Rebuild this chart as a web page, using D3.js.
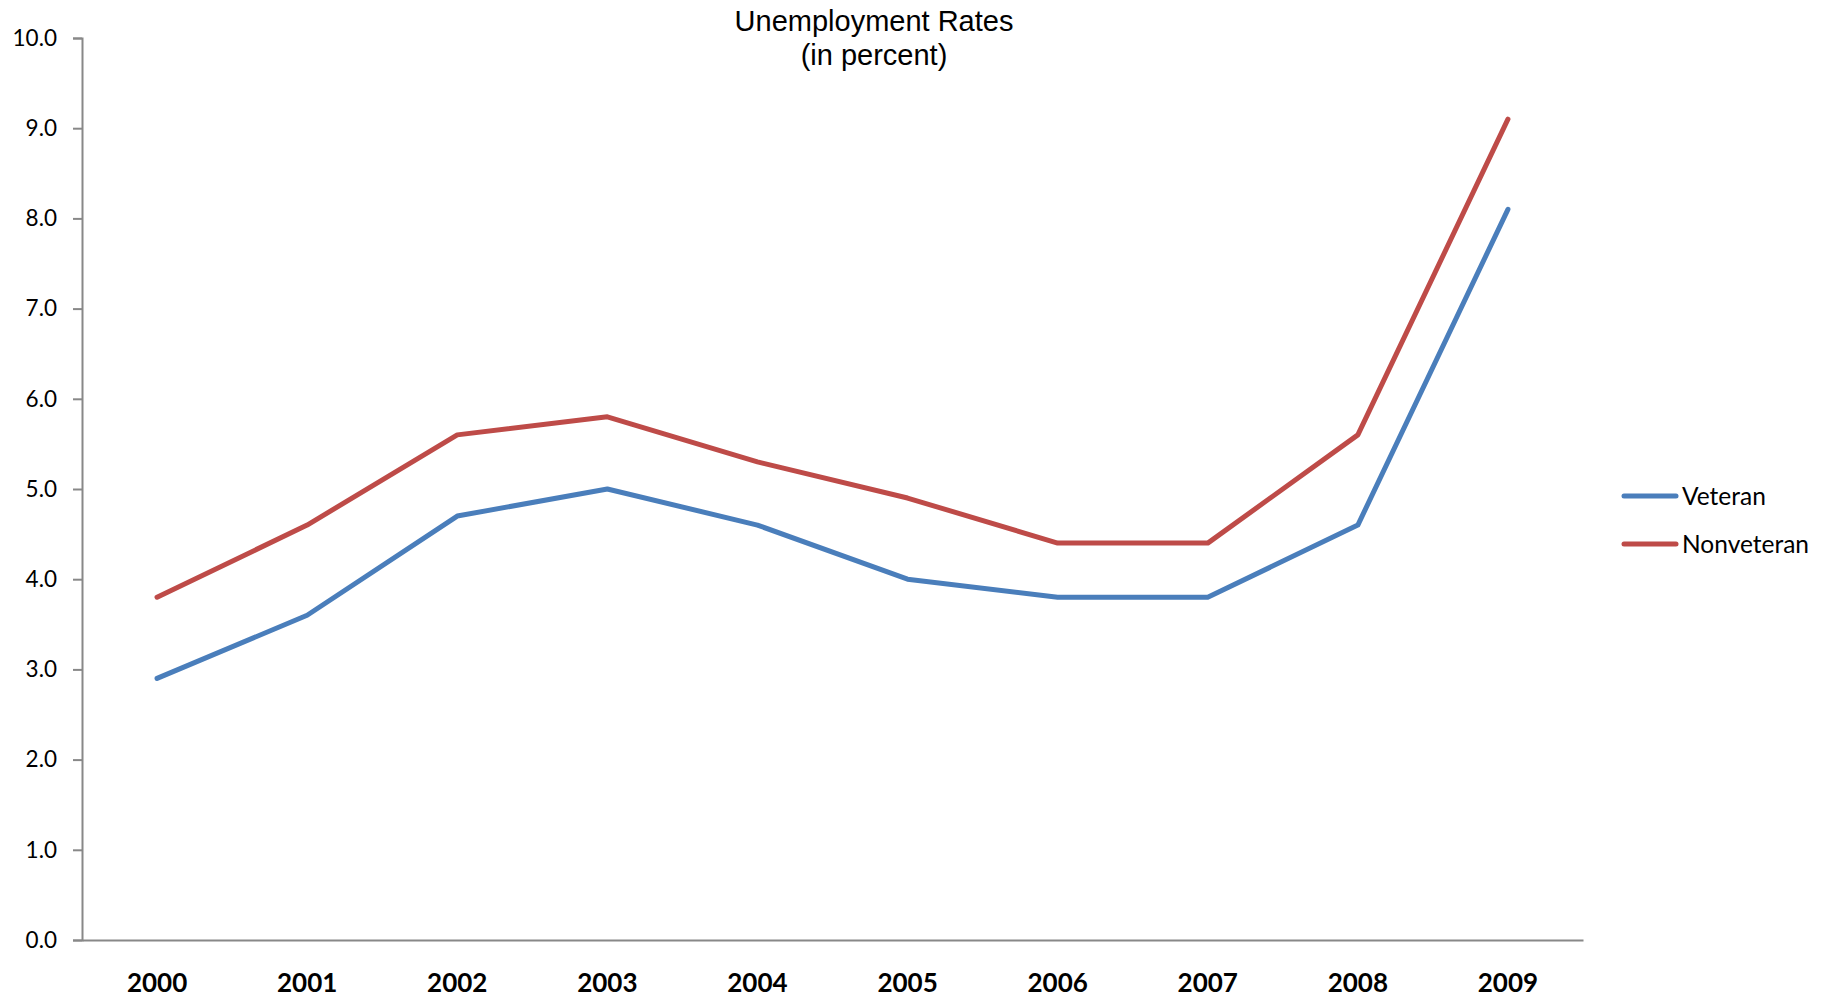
<!DOCTYPE html>
<html><head><meta charset="utf-8">
<script src="https://cdn.jsdelivr.net/npm/d3@7"></script>
<style>body{margin:0;background:#fff}svg{display:block}</style>
</head><body>
<svg id="c" width="1825" height="1000"></svg>
<script>
const years = ["2000","2001","2002","2003","2004","2005","2006","2007","2008","2009"];
const veteran = [2.9, 3.6, 4.7, 5.0, 4.6, 4.0, 3.8, 3.8, 4.6, 8.1];
const nonveteran = [3.8, 4.6, 5.6, 5.8, 5.3, 4.9, 4.4, 4.4, 5.6, 9.1];
const yTicks = [0,1,2,3,4,5,6,7,8,9,10];
const seriesNames = ["Veteran","Nonveteran"];
const colors = ["#4A7EBB","#BE4B48"];

const svg = d3.select("#c");
const pLeft = 82, pRight = 1583, pTop = 38, pBottom = 940;
const x = d3.scaleBand().domain(years).range([pLeft, pRight]);
const y = d3.scaleLinear().domain([0,10]).range([pBottom, pTop]);

// y axis
const ya = svg.append("g").attr("transform",`translate(${pLeft},0)`)
  .call(d3.axisLeft(y).tickValues(yTicks).tickFormat(d3.format(".1f")).tickSize(9).tickPadding(16));
ya.select(".domain").attr("stroke","#888").attr("stroke-width",2);
ya.selectAll(".tick line").attr("stroke","#888").attr("stroke-width",2);
ya.selectAll("text").attr("font-family","Lato, 'Open Sans', sans-serif").attr("font-size",22.5).attr("fill","#000");

// x axis
const xa = svg.append("g").attr("transform",`translate(0,${pBottom})`)
  .call(d3.axisBottom(x).tickSize(0).tickPadding(34));
xa.select(".domain").attr("stroke","#888").attr("stroke-width",2);
xa.selectAll("text").attr("font-family","Lato, 'Open Sans', sans-serif").attr("font-size",26).attr("font-weight","bold").attr("fill","#000");

const line = d3.line().x((d,i)=>x(years[i])+x.bandwidth()/2).y(d=>y(d));
[veteran, nonveteran].forEach((s,k)=>{
  svg.append("path").datum(s).attr("d",line).attr("fill","none")
    .attr("stroke",colors[k]).attr("stroke-width",5).attr("stroke-linejoin","round").attr("stroke-linecap","round");
});

// title
const t = svg.append("text").attr("x",874).attr("text-anchor","middle")
  .attr("font-family","'Liberation Sans', Arial, sans-serif").attr("font-size",29).attr("fill","#000");
t.append("tspan").attr("x",874).attr("y",31).text("Unemployment Rates");
t.append("tspan").attr("x",874).attr("y",65).text("(in percent)");

// legend
const leg = svg.append("g");
seriesNames.forEach((n,k)=>{
  const ly = 496 + k*48;
  leg.append("line").attr("x1",1624).attr("x2",1676).attr("y1",ly).attr("y2",ly)
    .attr("stroke",colors[k]).attr("stroke-width",5).attr("stroke-linecap","round");
  leg.append("text").attr("x",1682).attr("y",ly+9).text(n)
    .attr("font-family","Lato, 'Open Sans', sans-serif").attr("font-size",24.5).attr("fill","#000");
});
</script>
</body></html>
